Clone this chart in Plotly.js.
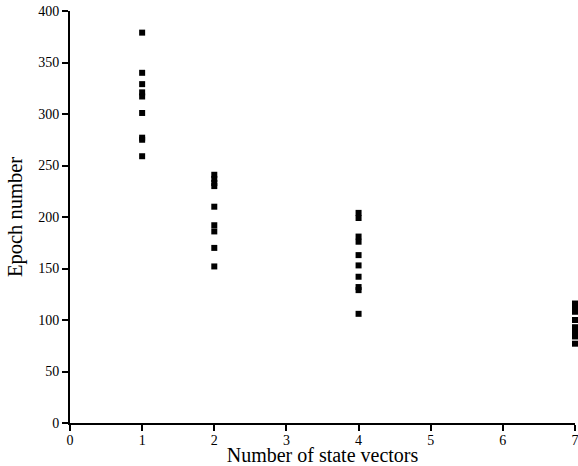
<!DOCTYPE html>
<html>
<head>
<meta charset="utf-8">
<script src="https://cdn.plot.ly/plotly-3.0.1.min.js"></script>
<style>html,body{margin:0;padding:0;background:#fff;}#chart{width:578px;height:466px;}</style>
</head>
<body>
<div id="chart"></div>
<script>
// Number of state vectors for each run
var stateVectors = [1,1,1,1,1,1,1,1,1,
                    2,2,2,2,2,2,2,2,2,
                    4,4,4,4,4,4,4,4,4,4,
                    7,7,7,7,7,7,7,7];
// Epoch number reached
var epochs = [379,340,329,321,317,301,277,275,259,
              241,237,233,230,210,192,186,170,152,
              204,199,181,176,163,153,142,132,129,106,
              116,112,108,100,93,89,84,77];
var xTicks = [0,1,2,3,4,5,6,7];
var yTicks = [0,50,100,150,200,250,300,350,400];

var FONT = '"Liberation Serif", "Times New Roman", serif';
var trace = {
  x: stateVectors,
  y: epochs,
  type: 'scatter',
  mode: 'markers',
  marker: {symbol: 'square', size: 6, color: '#000'},
  cliponaxis: false,
  hoverinfo: 'x+y'
};
function axisCommon() {
  return {
    showline: true, linecolor: '#000', linewidth: 2,
    ticks: 'outside', ticklen: 6, tickwidth: 2, tickcolor: '#000',
    showgrid: false, zeroline: false, automargin: false,
    ticklabeloverflow: 'allow',
    tickfont: {family: FONT, size: 14, color: '#000'}
  };
}
var layout = {
  width: 578, height: 466,
  margin: {l: 70, r: 3, t: 11, b: 43},
  paper_bgcolor: '#fff', plot_bgcolor: '#fff',
  font: {family: FONT, color: '#000'},
  showlegend: false,
  xaxis: Object.assign(axisCommon(), {
    range: [0, 7], tickvals: xTicks, ticktext: xTicks.map(String),
    ticklabelstandoff: -3,
    title: {text: 'Number of state vectors', standoff: 1,
            font: {family: FONT, size: 20, color: '#000'}}
  }),
  yaxis: Object.assign(axisCommon(), {
    range: [0, 400], tickvals: yTicks, ticktext: yTicks.map(String),
    title: {text: 'Epoch number', standoff: 10,
            font: {family: FONT, size: 20.5, color: '#000'}}
  })
};
Plotly.newPlot('chart', [trace], layout, {displayModeBar: false, staticPlot: true});
</script>
</body>
</html>
